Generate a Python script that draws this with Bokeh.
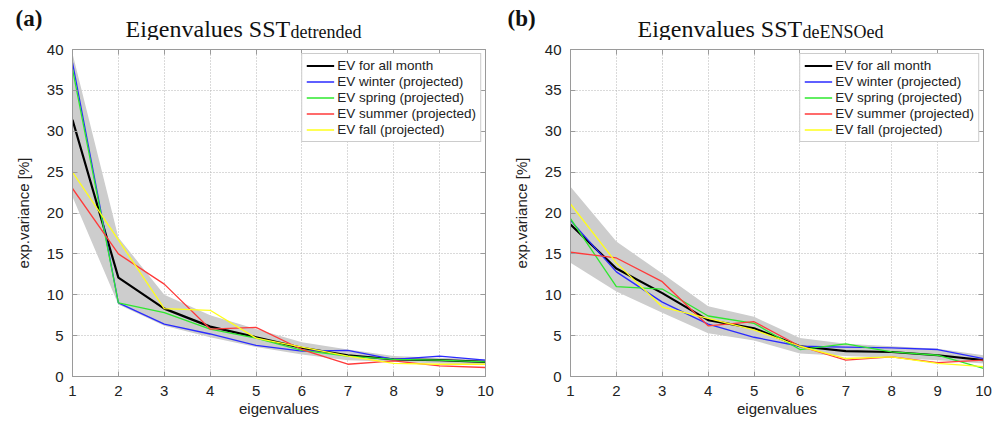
from bokeh.plotting import figure
from bokeh.models import Legend, LegendItem, LinearAxis, Range1d, FixedTicker
from bokeh.layouts import row, column
from bokeh.core.properties import value
from bokeh.embed import file_html
from bokeh.resources import INLINE

eig = [1, 2, 3, 4, 5, 6, 7, 8, 9, 10]
series_names = ["EV for all month", "EV winter (projected)", "EV spring (projected)",
                "EV summer (projected)", "EV fall (projected)"]

# panel (a): SST detrended
a_all = [31.4, 12.1, 8.3, 6.1, 4.8, 3.5, 2.6, 2.1, 2.0, 1.8]
a_winter = [38.4, 9.0, 6.4, 5.2, 3.8, 3.1, 3.2, 2.1, 2.5, 2.0]
a_spring = [37.6, 9.0, 7.8, 5.8, 4.7, 3.2, 2.5, 2.1, 2.0, 1.8]
a_summer = [23.0, 15.0, 11.3, 5.8, 6.0, 3.3, 1.5, 1.9, 1.3, 1.1]
a_fall = [25.0, 16.7, 8.3, 8.1, 4.7, 3.6, 2.5, 1.6, 1.5, 1.5]
a_upper = [39.5, 17.0, 10.0, 7.5, 5.8, 4.2, 3.3, 2.5, 2.3, 2.1]
a_lower = [22.0, 8.8, 6.2, 4.8, 3.6, 2.7, 2.0, 1.8, 1.6, 1.4]

# panel (b): SST deENSOed
b_all = [18.6, 13.2, 10.2, 6.9, 5.9, 3.7, 3.1, 3.0, 2.6, 2.0]
b_winter = [19.1, 12.8, 9.1, 6.4, 4.8, 3.7, 3.6, 3.5, 3.3, 2.2]
b_spring = [19.3, 11.0, 10.7, 7.4, 6.5, 3.3, 4.0, 3.0, 2.6, 1.0]
b_summer = [15.2, 14.5, 11.6, 6.2, 6.7, 3.7, 2.0, 2.4, 1.7, 2.0]
b_fall = [21.1, 13.9, 8.5, 7.1, 5.7, 3.7, 2.2, 2.4, 1.6, 1.2]
b_upper = [23.2, 16.5, 12.6, 8.6, 7.3, 4.7, 4.0, 3.7, 3.4, 2.6]
b_lower = [13.9, 10.4, 7.8, 5.3, 4.4, 2.8, 2.5, 2.3, 2.0, 1.6]

y_ticks = [0, 5, 10, 15, 20, 25, 30, 35, 40]

panel_letters = ["(a)", "(b)"]
title_main = "Eigenvalues SST"
title_subs = ["detrended", "deENSOed"]

colors = ["#000000", "#2a2aff", "#2ee82e", "#ff3a3a", "#ffff1a"]
widths = [2.2, 1.3, 1.3, 1.3, 1.3]

SANS = "Liberation Sans"
SERIF = "Liberation Serif"
FRAME = "#9a9a9a"

STRIP_H = 40


def make_panel(series, upper, lower, bl, br, bt, bb):
    p = figure(width=500, height=435 - STRIP_H, output_backend="svg", toolbar_location=None,
               x_range=Range1d(1, 10), y_range=Range1d(0, 40),
               min_border_left=bl, min_border_right=br, min_border_top=bt,
               min_border_bottom=bb)
    p.outline_line_color = FRAME
    p.border_fill_color = "white"

    for ax in (p.xaxis[0], p.yaxis[0]):
        ax.major_tick_in = 5
        ax.major_tick_out = 0
        ax.minor_tick_line_color = None
        ax.axis_line_color = FRAME
        ax.major_tick_line_color = FRAME
        ax.major_label_text_font = SANS
        ax.major_label_text_font_size = "15px"
        ax.major_label_text_color = "#222222"
        ax.axis_label_text_font = SANS
        ax.axis_label_text_font_size = "15px"
        ax.axis_label_text_font_style = "normal"
        ax.axis_label_text_color = "#222222"
    p.xaxis[0].ticker = FixedTicker(ticks=eig)
    p.yaxis[0].ticker = FixedTicker(ticks=y_ticks)
    p.xaxis[0].axis_label = "eigenvalues"
    p.yaxis[0].axis_label = "exp.variance [%]"
    p.xaxis[0].major_label_standoff = 9
    p.yaxis[0].major_label_standoff = 9
    p.xaxis[0].axis_label_standoff = 1
    p.yaxis[0].axis_label_standoff = 12

    for loc, ticks in (("above", eig), ("right", y_ticks)):
        ax = LinearAxis(ticker=FixedTicker(ticks=ticks), major_label_text_font_size="1px",
                        major_label_text_color=None, major_tick_in=5, major_tick_out=0,
                        minor_tick_line_color=None, axis_line_color=FRAME,
                        major_tick_line_color=FRAME, major_label_standoff=0)
        p.add_layout(ax, loc)

    p.xgrid.ticker = FixedTicker(ticks=eig)
    p.ygrid.ticker = FixedTicker(ticks=y_ticks)
    for g in (p.xgrid[0], p.ygrid[0]):
        g.grid_line_color = "#b5b5b5"
        g.grid_line_dash = "1 2"
        g.grid_line_width = 1

    p.varea(x=eig, y1=lower, y2=upper, fill_color="#cdcdcd", fill_alpha=1.0)

    items = []
    for name, vals, c, w in zip(series_names, series, colors, widths):
        r = p.line(eig, vals, line_color=c, line_width=w)
        items.append(LegendItem(label=name, renderers=[r]))

    leg = Legend(items=items, location="top_right")
    leg.margin = 4
    leg.padding = 4
    leg.spacing = 1
    leg.label_height = 15
    leg.glyph_height = 15
    leg.glyph_width = 28
    leg.label_standoff = 3
    leg.label_text_font = SANS
    leg.label_text_font_size = "13.5px"
    leg.label_text_color = "#222222"
    leg.border_line_color = FRAME
    leg.background_fill_alpha = 1.0
    p.add_layout(leg)
    return p


# title strip (pixel coordinates, y measured from the strip's bottom)
tf = figure(width=1000, height=STRIP_H, output_backend="svg", toolbar_location=None,
            x_range=Range1d(0, 1000), y_range=Range1d(0, STRIP_H),
            min_border_left=0, min_border_right=0, min_border_top=0, min_border_bottom=0)
tf.axis.visible = False
tf.grid.visible = False
tf.outline_line_color = None

tf.text(x=[15, 507], y=[STRIP_H - 18, STRIP_H - 18], text=panel_letters,
        text_font=value(SERIF), text_font_size="23px", text_font_style="bold",
        text_color="#111111", text_baseline="alphabetic")
tf.text(x=[125, 637], y=[STRIP_H - 28, STRIP_H - 28], text=[title_main, title_main],
        text_font=value(SERIF), text_font_size="24px", text_color="#111111",
        text_baseline="alphabetic")
tf.text(x=[290, 802], y=[STRIP_H - 31, STRIP_H - 31], text=title_subs,
        text_font=value(SERIF), text_font_size="18px", text_color="#111111",
        text_baseline="alphabetic")

pa = make_panel([a_all, a_winter, a_spring, a_summer, a_fall], a_upper, a_lower,
                72, 15, 49 - STRIP_H, 59)
pb = make_panel([b_all, b_winter, b_spring, b_summer, b_fall], b_upper, b_lower,
                70, 17, 49 - STRIP_H, 59)

layout = column(tf, row(pa, pb))
open("out.html", "w").write(file_html(layout, INLINE))
